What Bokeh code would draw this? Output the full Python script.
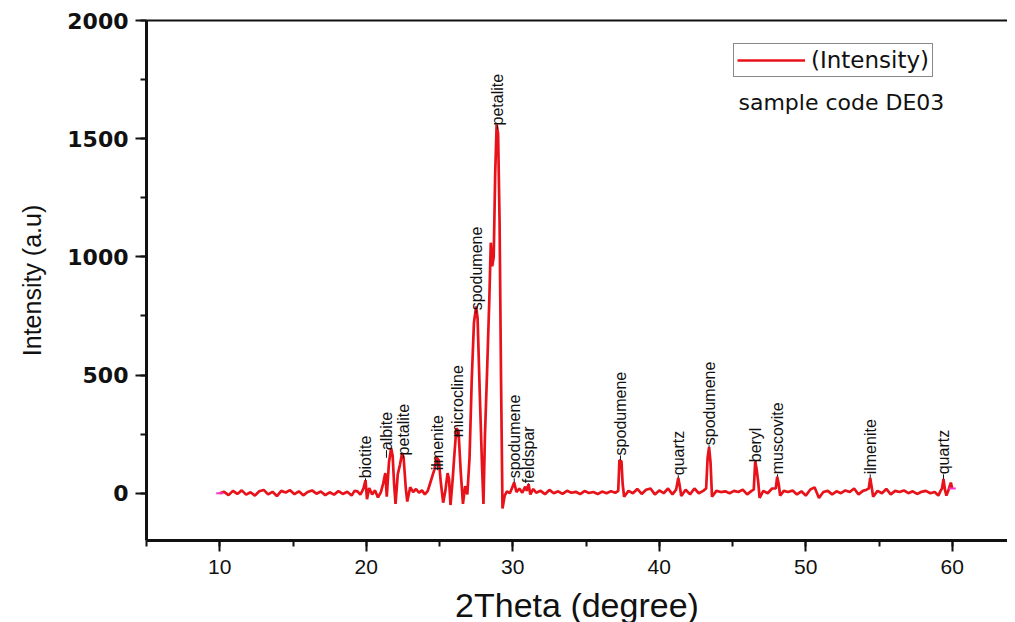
import numpy as np
from bokeh.plotting import figure
from bokeh.models import (LinearAxis, SingleIntervalTicker, FixedTicker, Range1d, Label,
                          Legend, LegendItem, ColumnDataSource)
from bokeh.core.properties import value
from bokeh.embed import file_html
from bokeh.resources import INLINE

# ---------------- data ----------------
two_theta = [
    10.0, 10.3, 10.6, 10.9, 11.2, 11.5, 11.8, 12.1, 12.4, 12.7, 13.0, 13.3, 13.6, 13.9,
    14.2, 14.5, 14.8, 15.1, 15.4, 15.7, 16.0, 16.3, 16.6, 16.9, 17.2, 17.5, 17.8, 18.1,
    18.4, 18.7, 19.0, 19.2, 19.4, 19.6, 19.8, 19.95, 20.05, 20.2, 20.4, 20.6, 20.8, 21.0,
    21.15, 21.3, 21.4, 21.55, 21.7, 21.8, 21.9, 22.0, 22.15, 22.3, 22.45, 22.55, 22.7,
    22.8, 23.0, 23.2, 23.4, 23.6, 23.8, 24.0, 24.2, 24.35, 24.5, 24.65, 24.8, 24.95,
    25.1, 25.25, 25.4, 25.55, 25.65, 25.75, 25.9, 26.0, 26.15, 26.3, 26.45, 26.6, 26.75,
    26.9, 27.05, 27.2, 27.35, 27.5, 27.6, 27.75, 27.9, 28.0, 28.1, 28.25, 28.4, 28.5,
    28.6, 28.7, 28.8, 28.9, 29.0, 29.1, 29.2, 29.3, 29.45, 29.6, 29.8, 29.95, 30.1,
    30.25, 30.45, 30.65, 30.85, 30.95, 31.08, 31.2, 31.4, 31.6, 31.9, 32.2, 32.5, 32.8,
    33.1, 33.4, 33.7, 34.0, 34.3, 34.6, 34.9, 35.2, 35.5, 35.8, 36.1, 36.4, 36.7, 37.0,
    37.2, 37.28, 37.42, 37.5, 37.6, 37.9, 38.2, 38.5, 38.8, 39.1, 39.4, 39.7, 40.0,
    40.3, 40.6, 40.9, 41.15, 41.3, 41.4, 41.5, 41.8, 42.1, 42.4, 42.7, 43.0, 43.2, 43.3,
    43.4, 43.5, 43.6, 43.9, 44.2, 44.5, 44.8, 45.1, 45.4, 45.7, 46.0, 46.3, 46.45,
    46.55, 46.65, 46.75, 46.85, 47.1, 47.4, 47.7, 47.95, 48.05, 48.15, 48.25, 48.5,
    48.8, 49.1, 49.4, 49.7, 50.0, 50.3, 50.6, 50.9, 51.2, 51.5, 51.8, 52.1, 52.4, 52.7,
    53.0, 53.3, 53.6, 53.9, 54.15, 54.3, 54.4, 54.5, 54.6, 54.9, 55.2, 55.5, 55.8, 56.1,
    56.4, 56.7, 57.0, 57.3, 57.6, 57.9, 58.2, 58.5, 58.8, 59.05, 59.2, 59.3, 59.4, 59.5,
    59.6, 59.75, 59.9, 60.0,
]
intensity = [
    0, 6, -8, 10, -3, 12, -6, 4, -10, 8, 14, -5, 6, -12,
    10, 3, 13, -4, 8, -9, 5, 12, -2, 7, -8, 4, -6, 9,
    -3, 6, -10, 10, 8, -6, 18, 55, -25, 22, -5, 12, -18, 5,
    40, 85, -15, 130, 190, 160, 40, -45, 80, 120, 170, 150, 20,
    -35, 25, 5, 18, 2, 12, -5, 10, 40, 70, 100, 150, 140,
    40, -40, 10, 85, 60, -50, 60, 150, 275, 260, 90, -45, 30,
    -5, 150, 480, 720, 790, 740, 420, 120, -45, 240, 520, 820, 1060,
    960, 1000, 1350, 1560, 1520, 1150, 480, -65, -10, 8, 0, 22, 45,
    5, 20, 2, 28, 10, 38, -5, 18, 2, 10, -4, 14, 0,
    8, -3, 10, 2, 6, -4, 9, 1, 5, -3, 7, 0, 8, 2,
    10, 140, 135, 40, -15, 10, 0, 18, -3, 15, 20, -5, 12,
    0, 20, -5, 15, 65, 30, -12, 15, -5, 20, 0, 10, 20, 150,
    195, 130, -15, 10, 5, 8, 0, 10, 5, 15, -5, 10, 15,
    135, 100, 50, -20, 10, 0, 20, 20, 70, 40, -10, 10,
    5, 12, -5, 8, -10, 15, 25, -20, 5, 10, -5, 8, 0, 12,
    5, 20, -5, 10, 15, 20, 65, 25, -15, 10, 0, 18, -5, 10,
    5, 12, 0, 8, -3, 6, 10, 0, 5, -10, 10, 20, 60, 15,
    -10, 15, 45, 20,
]

label_x = [19.95, 21.38, 22.54, 24.85, 26.25, 27.5, 28.96, 30.1, 31.08,
           37.35, 41.3, 43.4, 46.6, 48.07, 54.4, 59.4]
label_peak = [55, 150, 150, 140, 260, 760, 1540, 45, 38,
              140, 65, 195, 135, 70, 65, 60]
label_base = [63, 182, 160, 97, 237, 774, 1556, 63, 42,
              160, 76, 203, 131, 80, 80, 80]
label_text = ["biotite", "albite", "petalite", "ilmenite", "microcline", "spodumene",
              "petalite", "spodumene", "feldspar", "spodumene", "quartz", "spodumene",
              "beryl", "muscovite", "ilmenite", "quartz"]

x_ticks_interval = 10
y_ticks_interval = 500

# ---------------- figure ----------------
p = figure(frame_width=861, frame_height=520, output_backend="svg", toolbar_location=None,
           x_range=Range1d(5, 63.77), y_range=Range1d(-200, 2000),
           min_border_left=146, min_border_right=0, min_border_top=20,
           min_border_bottom=60, x_axis_location=None, y_axis_location=None)
p.outline_line_color = None
p.xgrid.visible = False
p.ygrid.visible = False
p.background_fill_color = "white"

BLACK = "#111111"
RED = "#e8121a"

xax = LinearAxis(ticker=SingleIntervalTicker(interval=x_ticks_interval, num_minor_ticks=2),
                 axis_label="2Theta (degree)")
yax = LinearAxis(ticker=SingleIntervalTicker(interval=y_ticks_interval, num_minor_ticks=2),
                 axis_label="Intensity (a.u)")
for ax in (xax, yax):
    ax.axis_line_width = 3
    ax.axis_line_color = BLACK
    ax.major_tick_line_width = 2
    ax.minor_tick_line_width = 2
    ax.major_tick_line_color = BLACK
    ax.minor_tick_line_color = BLACK
    ax.major_tick_in = 0
    ax.major_tick_out = 11
    ax.minor_tick_in = 0
    ax.minor_tick_out = 6
    ax.major_label_text_color = BLACK
    ax.axis_label_text_color = BLACK
    ax.axis_label_text_font_style = "normal"

xax.major_label_text_font = "Liberation Sans"
xax.major_label_text_font_size = "21px"
xax.major_label_standoff = 8
xax.axis_label_text_font = "Liberation Sans"
xax.axis_label_text_font_size = "34px"
xax.axis_label_standoff = 9

yax.major_label_text_font = "DejaVu Sans"
yax.major_label_text_font_style = "bold"
yax.major_label_text_font_size = "22px"
yax.major_label_standoff = 7
yax.axis_label_text_font = "Liberation Sans"
yax.axis_label_text_font_size = "25px"
yax.axis_label_standoff = 18

top = LinearAxis(ticker=FixedTicker(ticks=[]))
top.axis_line_width = 2
top.axis_line_color = BLACK
top.major_tick_line_color = None
top.minor_tick_line_color = None
top.major_label_standoff = 0

p.add_layout(xax, "below")
p.add_layout(yax, "left")
p.add_layout(top, "above")

src = ColumnDataSource(dict(x=two_theta, y=intensity))
r = p.line("x", "y", source=src, line_color=RED, line_width=2.7)

ends = ColumnDataSource(dict(x=[two_theta[0], two_theta[-1]],
                             y=[intensity[0], intensity[-1]]))
p.scatter("x", "y", source=ends, marker="dash", size=7, line_color="#ff33cc",
          line_width=2)

lab = ColumnDataSource(dict(x=label_x, y0=label_peak, y1=label_base, t=label_text))
p.segment(x0="x", y0="y0", x1="x", y1="y1", source=lab, line_color=BLACK, line_width=1)
p.text(x="x", y="y1", text="t", source=lab, angle=np.pi / 2, text_align="left",
       text_baseline="middle", text_font=value("Liberation Sans"),
       text_font_size="16px", text_color=BLACK)

legend = Legend(items=[LegendItem(label="(Intensity)", renderers=[r])],
                location=(587, 463), orientation="vertical")
legend.label_text_font = "DejaVu Sans"
legend.label_text_font_size = "23px"
legend.label_text_color = BLACK
legend.glyph_width = 68
legend.glyph_height = 20
legend.label_height = 20
legend.label_standoff = 6
legend.padding = 3
legend.margin = 0
legend.spacing = 0
legend.border_line_color = BLACK
legend.border_line_width = 1.5
legend.background_fill_alpha = 1
p.add_layout(legend, "center")

p.add_layout(Label(x=592, y=438, x_units="screen", y_units="screen",
                   text="sample code DE03", text_font="DejaVu Sans",
                   text_font_size="22px", text_color=BLACK, text_baseline="middle"))

open("out.html", "w").write(file_html(p, INLINE))
